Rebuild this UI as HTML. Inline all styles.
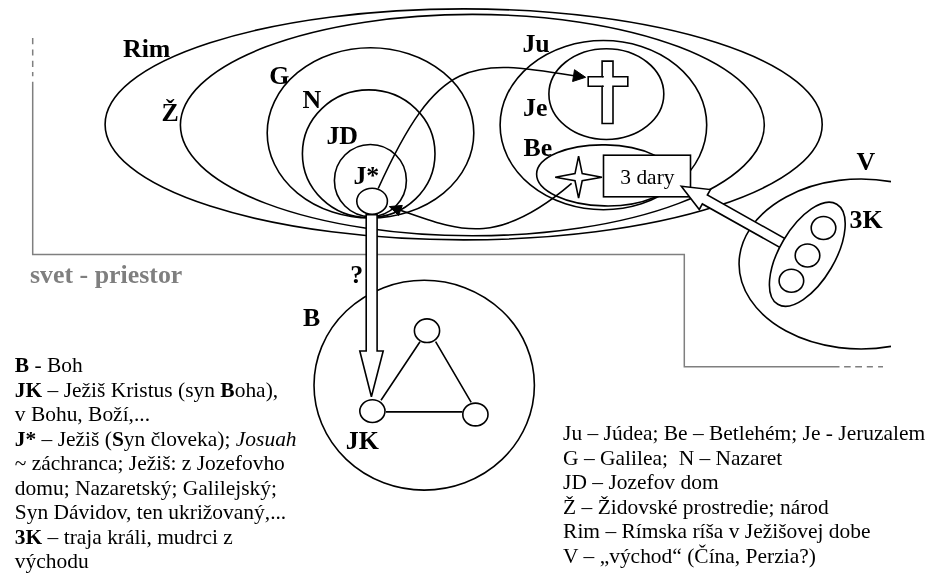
<!DOCTYPE html>
<html><head><meta charset="utf-8">
<style>
html,body{margin:0;padding:0;background:#fff;width:937px;height:577px;overflow:hidden}
svg{position:absolute;left:0;top:0;display:block;will-change:transform}
.b{font-family:"Liberation Serif",serif;font-weight:bold;font-size:25px;fill:#000}
.t{font-family:"Liberation Serif",serif;font-size:21px;fill:#000}
</style></head><body>
<svg width="937" height="577" viewBox="0 0 937 577">
<g fill="none" stroke="#000" stroke-width="1.6">
<!-- gray world frame -->
<g stroke="#7f7f7f" stroke-width="1.5">
<path d="M32.7,81.7 V254.4 H684.3 V366.8 H839.5"/>
<path d="M32.7,38.1 V44.3 M32.7,49.4 V55.6 M32.7,60.7 V66.9 M32.7,72 V76.2"/>
<path d="M844.1,366.8 H850.7 M855.2,366.8 H862 M866.8,366.8 H872.9 M878.1,366.8 H883"/>
</g>
<ellipse cx="463.65" cy="124.4" rx="358.55" ry="115.5"/>
<ellipse cx="472.35" cy="125.1" rx="291.95" ry="110.7"/>
<!-- G N JD J* -->
<ellipse cx="370.5" cy="132.9" rx="103.3" ry="85.1"/>
<ellipse cx="368.7" cy="153.7" rx="66.3" ry="63.8"/>
<ellipse cx="370.4" cy="180.5" rx="36" ry="36"/>
<!-- Ju Je Be -->
<ellipse cx="603.4" cy="125.1" rx="103.3" ry="84.6"/>
<ellipse cx="606.35" cy="94.1" rx="57.45" ry="45.4"/>
<ellipse cx="605" cy="175.4" rx="68.4" ry="30.5" transform="rotate(1.2 605 175.4)"/>
<!-- V -->
<path d="M891,181.6 A122,85 0 1 0 891,346.4"/>
<!-- 3K -->
<!-- curve arrow J* -> cross -->
<path d="M378.2,188.5 C438.4,56.2 470.6,58.5 574,75.8"/>
<path d="M585.6,77.3 L574.5,69.7 L572.6,81.5 Z" fill="#000" stroke-width="1"/>
<!-- curve star -> J* -->
<path d="M571.6,183.4 C495.4,248.9 457.7,229.9 400.5,210.2"/>
<path d="M389.3,206.6 L402.3,205.4 L398.6,215.5 Z" fill="#000" stroke-width="1"/>
<!-- cross -->
<path d="M602.1,61.1 H613 V76.8 H627.8 V86.2 H613 V123.5 H602.1 V86.2 H588.2 V76.8 H602.1 Z" fill="#fff"/>
<path d="M602.1,76.8 H603.8 M602.1,86.2 H603.8"/>
<!-- star -->
<path d="M578.6,156.2 L582.2,173.6 L602,177.2 L582.2,180.8 L578.6,198.2 L575,180.8 L555.2,177.2 L575,173.6 Z" fill="#fff"/>
<!-- box -->
<rect x="603.5" y="155.2" width="87" height="41.6" fill="#fff"/>
<!-- big arrow 3K -> box -->
<path d="M0,0 L27,-11.4 L27,-5.1 L122,-5.1 L122,5.1 L27,5.1 L27,11.4 Z" fill="#fff" transform="translate(681.3,186.3) rotate(29.27)"/>
<!-- 3K -->
<ellipse cx="807.3" cy="254.25" rx="27.6" ry="58.1" transform="rotate(30.5 807.3 254.25)" fill="#fff"/>
<ellipse cx="823.5" cy="228" rx="12.3" ry="11.5"/>
<ellipse cx="807.5" cy="255.5" rx="12.3" ry="11.5"/>
<ellipse cx="791.4" cy="280.8" rx="12.3" ry="11.5"/>
<!-- B -->
<ellipse cx="424.2" cy="385.2" rx="110.2" ry="104.9"/>
<!-- vertical arrow -->
<path d="M366.2,214.6 V351 H359.8 L371.4,396.8 L383.2,351 H377.1 V214.6 Z" fill="#fff"/>
<!-- J* small -->
<ellipse cx="372.1" cy="201.2" rx="15.3" ry="13" fill="#fff"/>
<!-- B -->
<path d="M381,400.2 L420,341.7 M435.6,341.7 L471.2,402.3 M386,411.9 H462.4"/>
<ellipse cx="427" cy="330.7" rx="12.6" ry="11.8" fill="#fff"/>
<ellipse cx="372.4" cy="411.1" rx="12.6" ry="11.4" fill="#fff"/>
<ellipse cx="475.4" cy="414.5" rx="12.6" ry="11.4" fill="#fff"/>
</g>
<!-- labels -->
<g class="b">
<text transform="translate(123.0,57.0) scale(1.035,1)">Rim</text>
<text transform="translate(161.6,121.4) scale(1.035,1)">Ž</text>
<text transform="translate(269.2,83.8) scale(1.035,1)">G</text>
<text transform="translate(302.6,108.4) scale(1.035,1)">N</text>
<text transform="translate(326.4,143.6) scale(1.035,1)">JD</text>
<text transform="translate(353.4,184.1) scale(1.035,1)">J*</text>
<text transform="translate(522.4,52.0) scale(1.035,1)">Ju</text>
<text transform="translate(523.0,116.0) scale(1.035,1)">Je</text>
<text transform="translate(523.4,155.9) scale(1.035,1)">Be</text>
<text transform="translate(856.6,170.0) scale(1.035,1)">V</text>
<text transform="translate(849.6,227.6) scale(1.035,1)">3K</text>
<text transform="translate(303.0,325.6) scale(1.035,1)">B</text>
<text transform="translate(345.7,448.5) scale(1.035,1)">JK</text>
<text transform="translate(350.3,283.2) scale(1.035,1)">?</text>
<text transform="translate(30.0,282.8) scale(1.035,1)" fill="#7f7f7f">svet - priestor</text>
</g>
<text class="t" transform="translate(620.3,183.6) scale(1.022,1)">3 dary</text>
<g class="t">
<text transform="translate(14.8,372.4) scale(1.022,1)"><tspan font-weight="bold">B</tspan> - Boh</text>
<text transform="translate(14.8,396.9) scale(1.022,1)"><tspan font-weight="bold">JK</tspan> – Ježiš Kristus (syn <tspan font-weight="bold">B</tspan>oha),</text>
<text transform="translate(14.8,421.4) scale(1.022,1)">v Bohu, Boží,...</text>
<text transform="translate(14.8,445.9) scale(1.022,1)"><tspan font-weight="bold">J*</tspan> – Ježiš (<tspan font-weight="bold">S</tspan>yn človeka); <tspan font-style="italic">Josuah</tspan></text>
<text transform="translate(14.8,470.4) scale(1.022,1)">~ záchranca; Ježiš: z Jozefovho</text>
<text transform="translate(14.8,494.9) scale(1.022,1)">domu; Nazaretský; Galilejský;</text>
<text transform="translate(14.8,519.4) scale(1.022,1)">Syn Dávidov, ten ukrižovaný,...</text>
<text transform="translate(14.8,543.9) scale(1.022,1)"><tspan font-weight="bold">3K</tspan> – traja králi, mudrci z</text>
<text transform="translate(14.8,568.4) scale(1.022,1)">východu</text>
</g>
<g class="t">
<text transform="translate(563.1,440.0) scale(1.022,1)">Ju – Júdea; Be – Betlehém; Je - Jeruzalem</text>
<text transform="translate(563.1,464.5) scale(1.022,1)">G – Galilea;&#160; N – Nazaret</text>
<text transform="translate(563.1,489.0) scale(1.022,1)">JD – Jozefov dom</text>
<text transform="translate(563.1,513.5) scale(1.022,1)">Ž – Židovské prostredie; národ</text>
<text transform="translate(563.1,538.0) scale(1.022,1)">Rim – Rímska ríša v Ježišovej dobe</text>
<text transform="translate(563.1,562.5) scale(1.022,1)">V – „východ“ (Čína, Perzia?)</text>
</g>
</svg>
</body></html>
